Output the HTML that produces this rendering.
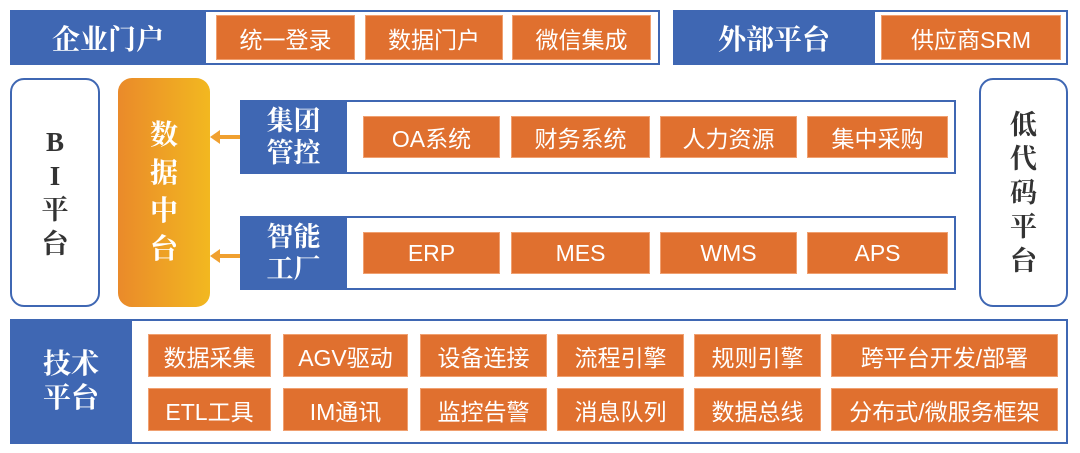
<!DOCTYPE html>
<html><head><meta charset="utf-8"><style>
body{margin:0;width:1080px;height:453px;background:#fff;position:relative;overflow:hidden;font-family:"Liberation Sans","Noto Sans CJK SC",sans-serif}
div{position:absolute;box-sizing:border-box}
.bar{border:2px solid #3f67b3;background:#fff}
.bl{background:#3f67b3;color:#fff;font-family:"Liberation Serif","Noto Serif CJK SC",serif;font-weight:bold;display:flex;align-items:center;justify-content:center;text-align:center}
.o{background:#e0702f;color:#fff;font-size:23px;display:flex;align-items:center;justify-content:center;border:1px solid #f0a070}
.v{border:2px solid #3f67b3;border-radius:14px;background:#fff;font-family:"Liberation Serif","Noto Serif CJK SC",serif;font-weight:bold;font-size:27px;color:#333;display:flex;align-items:center;justify-content:center;text-align:center;line-height:34px}
.arr{height:4px;background:#f0a030}
.ah{width:0;height:0;border-top:7px solid transparent;border-bottom:7px solid transparent;border-right:10px solid #f0a030}
</style></head><body>
<div class="bar" style="left:10px;top:10px;width:650px;height:55px"></div>
<div class="bl" style="left:10px;top:10px;width:196px;height:55px;font-size:28px">企业门户</div>
<div class="o" style="left:216px;top:15px;width:139px;height:45px">统一登录</div>
<div class="o" style="left:365px;top:15px;width:138px;height:45px">数据门户</div>
<div class="o" style="left:512px;top:15px;width:139px;height:45px">微信集成</div>
<div class="bar" style="left:673px;top:10px;width:395px;height:55px"></div>
<div class="bl" style="left:673px;top:10px;width:202px;height:55px;font-size:28px">外部平台</div>
<div class="o" style="left:881px;top:15px;width:180px;height:45px">供应商SRM</div>

<div class="v" style="left:10px;top:78px;width:90px;height:229px">B<br>I<br>平<br>台</div>
<div style="left:118px;top:78px;width:92px;height:229px;border-radius:14px;background:linear-gradient(90deg,#ea8a2a,#f2b820);color:#fff;font-family:'Liberation Serif','Noto Serif CJK SC',serif;font-weight:bold;font-size:28px;display:flex;align-items:center;justify-content:center;text-align:center;line-height:38px">数<br>据<br>中<br>台</div>
<div class="v" style="left:979px;top:78px;width:89px;height:229px">低<br>代<br>码<br>平<br>台</div>

<div class="ah" style="left:210px;top:130px"></div><div class="arr" style="left:219px;top:135px;width:21px"></div>
<div class="ah" style="left:210px;top:249px"></div><div class="arr" style="left:219px;top:254px;width:21px"></div>

<div class="bar" style="left:240px;top:100px;width:716px;height:74px"></div>
<div class="bl" style="left:240px;top:100px;width:107px;height:74px;font-size:27px;line-height:32px">集团<br>管控</div>
<div class="o" style="left:363px;top:116px;width:137px;height:42px">OA系统</div>
<div class="o" style="left:511px;top:116px;width:139px;height:42px">财务系统</div>
<div class="o" style="left:660px;top:116px;width:137px;height:42px">人力资源</div>
<div class="o" style="left:807px;top:116px;width:141px;height:42px">集中采购</div>

<div class="bar" style="left:240px;top:216px;width:716px;height:74px"></div>
<div class="bl" style="left:240px;top:216px;width:107px;height:74px;font-size:27px;line-height:32px">智能<br>工厂</div>
<div class="o" style="left:363px;top:232px;width:137px;height:42px">ERP</div>
<div class="o" style="left:511px;top:232px;width:139px;height:42px">MES</div>
<div class="o" style="left:660px;top:232px;width:137px;height:42px">WMS</div>
<div class="o" style="left:807px;top:232px;width:141px;height:42px">APS</div>

<div class="bar" style="left:10px;top:319px;width:1058px;height:125px"></div>
<div class="bl" style="left:10px;top:319px;width:122px;height:125px;font-size:28px;line-height:34px">技术<br>平台</div>
<div class="o" style="left:148px;top:334px;width:123px;height:43px">数据采集</div>
<div class="o" style="left:283px;top:334px;width:125px;height:43px">AGV驱动</div>
<div class="o" style="left:420px;top:334px;width:127px;height:43px">设备连接</div>
<div class="o" style="left:557px;top:334px;width:127px;height:43px">流程引擎</div>
<div class="o" style="left:694px;top:334px;width:127px;height:43px">规则引擎</div>
<div class="o" style="left:831px;top:334px;width:227px;height:43px">跨平台开发/部署</div>
<div class="o" style="left:148px;top:388px;width:123px;height:43px">ETL工具</div>
<div class="o" style="left:283px;top:388px;width:125px;height:43px">IM通讯</div>
<div class="o" style="left:420px;top:388px;width:127px;height:43px">监控告警</div>
<div class="o" style="left:557px;top:388px;width:127px;height:43px">消息队列</div>
<div class="o" style="left:694px;top:388px;width:127px;height:43px">数据总线</div>
<div class="o" style="left:831px;top:388px;width:227px;height:43px">分布式/微服务框架</div>
</body></html>
